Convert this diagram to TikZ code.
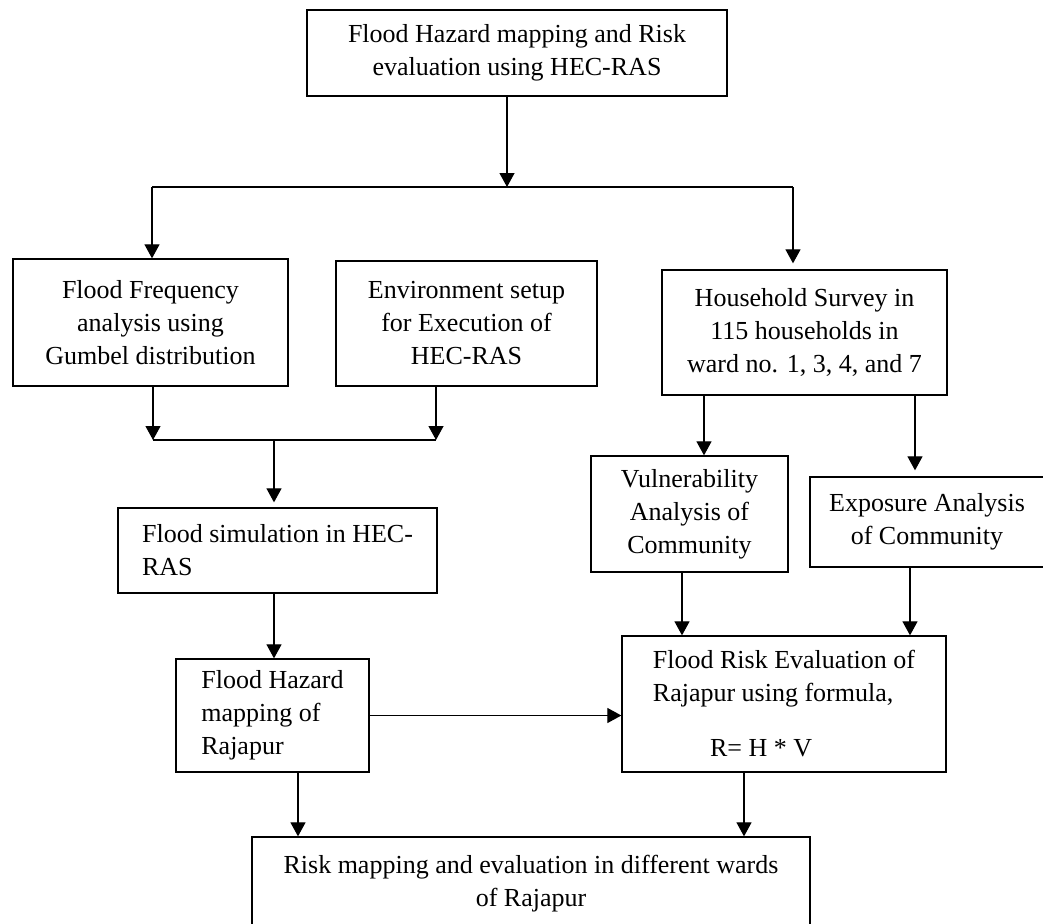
\documentclass[tikz,border=0pt]{standalone}
\usepackage{fontspec}
\setmainfont{Liberation Serif}
\usetikzlibrary{arrows.meta,positioning}

\begin{document}
\begin{tikzpicture}[
	x=1pt,y=-1pt,
	box/.style={
		draw,
		line width=1.3pt,
		align=center,
		inner sep=0pt,
		font=\fontsize{26}{33}\selectfont
	},
	lbox/.style={box,align=left},
	arrow/.style={-{Triangle[length=14pt,width=15pt]},line width=1.2pt},
	link/.style={line width=1.2pt}
	]
	
	\useasboundingbox (0,0) rectangle (1043,923);
	
	% top
	\node[box,minimum width=420pt,minimum height=86pt] (goal) at (517,53)
	{Flood Hazard mapping and Risk\\evaluation using HEC-RAS};
	
	% second row
	\node[box,minimum width=275pt,minimum height=127pt] (freq) at (150.5,322.5)
	{Flood Frequency\\analysis using\\Gumbel distribution};
	\node[box,minimum width=261pt,minimum height=125pt] (env) at (466.5,323.5)
	{Environment setup\\for Execution of\\HEC-RAS};
	\node[box,minimum width=285pt,minimum height=125pt] (survey) at (804.5,332.5)
	{Household Survey in\\115 households in\\ward no. 1, 3, 4, and 7};
	
	% middle
	\node[lbox,minimum width=319pt,minimum height=85pt] (sim) at (277.5,550.5)
	{Flood simulation in HEC-\\RAS};
	\node[box,minimum width=197pt,minimum height=116pt] (vuln) at (689.5,514)
	{Vulnerability\\Analysis of\\Community};
	\node[box,minimum width=234pt,minimum height=90pt] (expo) at (927,522)
	{Exposure Analysis\\of Community};
	
	% lower
	\node[lbox,minimum width=193pt,minimum height=113pt] (hazard) at (272.5,715.5)
	{Flood Hazard\\mapping of\\Rajapur};
	\node[lbox,minimum width=324pt,minimum height=136pt] (risk) at (784,704)
	{Flood Risk Evaluation of\\Rajapur using formula,\\[22pt]\hspace{2.2em}R= H * V};
	
	% bottom
	\node[box,minimum width=558pt,minimum height=94pt] (final) at (531,884)
	{Risk mapping and evaluation in different wards\\of Rajapur};
	
	% fork points
	\coordinate (forkc) at (507,187);
	\coordinate (forkl) at (152,187);
	\coordinate (forkr) at (793,187);
	\coordinate (joinl) at (153,440);
	\coordinate (joinr) at (436,440);
	\coordinate (joinc) at (274,440);
	\coordinate (hhv) at (704,0);
	\coordinate (hhe) at (915,0);
	\coordinate (vr) at (682,0);
	\coordinate (er) at (910,0);
	\coordinate (sh) at (274,0);
	\coordinate (hf) at (298,0);
	\coordinate (rf) at (744,0);
	
	\draw[arrow] (goal.south -| forkc)--(forkc);
	\draw[link] (forkl)--(forkr);
	\draw[arrow] (forkl)--(freq.north -| forkl);
	\draw[arrow,shorten >=6pt] (forkr)--(survey.north -| forkr);
	
	\draw[arrow] (freq.south -| joinl)--(joinl);
	\draw[arrow] (env.south -| joinr)--(joinr);
	\draw[link] (joinl)--(joinr);
	\draw[arrow,shorten >=5pt] (joinc)--(sim.north -| joinc);
	
	\draw[arrow] (survey.south -| hhv)--(vuln.north -| hhv);
	\draw[arrow,shorten >=6pt] (survey.south -| hhe)--(expo.north -| hhe);
	
	\draw[arrow] (sim.south -| sh)--(hazard.north -| sh);
	\draw[arrow] (vuln.south -| vr)--(risk.north -| vr);
	\draw[arrow] (expo.south -| er)--(risk.north -| er);
	
	\draw[arrow] (hazard.east)--(hazard.east -| risk.west);
	
	\draw[arrow] (hazard.south -| hf)--(final.north -| hf);
	\draw[arrow] (risk.south -| rf)--(final.north -| rf);
	
\end{tikzpicture}
\end{document}
